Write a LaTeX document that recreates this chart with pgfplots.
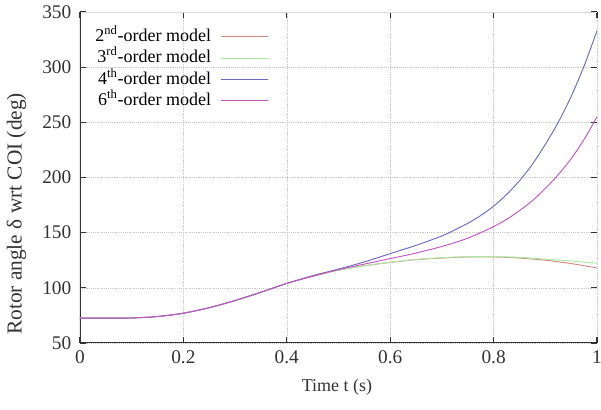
\documentclass[border=0pt]{standalone}
\usepackage{fontspec}
\setmainfont{Liberation Serif}
\usepackage{pgfplots}
\pgfplotsset{compat=1.18}
\definecolor{c2}{HTML}{D48A80}
\definecolor{c3}{HTML}{A8E8A0}
\definecolor{c4}{HTML}{6A6AC4}
\definecolor{c6}{HTML}{C455C4}
\begin{document}
\begin{tikzpicture}
\path[use as bounding box] (-60pt,-50.25pt) rectangle (390.75pt,257.25pt);
\begin{axis}[
  scale only axis,
  width=387.75pt, height=248.25pt,
  xmin=0, xmax=1, ymin=50, ymax=350,
  xtick={0,0.2,0.4,0.6,0.8,1},
  xticklabels={0,0.2,0.4,0.6,0.8,1},
  ytick={50,100,...,350},
  /pgf/number format/assume math mode=true,
  ticklabel style={font=\fontsize{14.5}{16}\selectfont, text=black!80},
  yticklabel style={xshift=-3pt},
  xticklabel style={yshift=-2pt},
  xlabel={Time t (s)},
  ylabel={Rotor angle δ wrt COI (deg)},
  xlabel style={font=\fontsize{13.5}{15}\selectfont, text=black!80,
    at={(axis description cs:0.497,0)}, anchor=center, yshift=-33.5pt},
  ylabel style={font=\fontsize{16}{18}\selectfont, text=black!80,
    at={(axis description cs:-0.123,0.39)}, anchor=center},
  grid=major,
  major grid style={densely dotted, gray!45},
  axis line style={draw=none},
  tick align=inside,
  major tick length=4.5pt,
  tick style={black!80, line width=0.8pt},
  legend cell align=right,
  legend plot pos=right,
  legend image code/.code={\path (0pt,0pt); \draw[#1] (6pt,0pt) -- (41pt,0pt);},
  legend style={draw=none, fill=none, at={(0.372,0.966)}, anchor=north east,
    font=\fontsize{13.5}{15}\selectfont, row sep=0pt,
    nodes={inner sep=1pt, text height=10.5pt, text depth=3.5pt}},
]
\draw[gray!30] (rel axis cs:0,1) -- (rel axis cs:1,1);
\draw[black!80, line width=1pt] (rel axis cs:0,1) -- (rel axis cs:0,0) -- (rel axis cs:1,0);

\addplot[c2, line width=0.7pt, smooth] coordinates {
(0,72.5) (0.05,72.5) (0.1,72.7) (0.15,74) (0.2,77) (0.25,82) (0.3,88.5) (0.35,96) (0.4,104)
(0.45,110.5) (0.5,116) (0.55,120) (0.6,123) (0.65,125.5) (0.7,127) (0.75,128) (0.8,128)
(0.85,127) (0.9,125) (0.95,122) (1.0,118)};
\addlegendentry{2\textsuperscript{nd}-order model}
\addplot[c3, line width=0.7pt, smooth] coordinates {
(0,72.5) (0.05,72.5) (0.1,72.7) (0.15,74) (0.2,77) (0.25,82) (0.3,88.5) (0.35,96) (0.4,104)
(0.45,110.5) (0.5,116) (0.55,120) (0.6,123.2) (0.65,125.7) (0.7,127.3) (0.75,128.2) (0.8,128.3)
(0.85,127.6) (0.9,126) (0.95,124.3) (1.0,122.3)};
\addlegendentry{3\textsuperscript{rd}-order model}
\addplot[c4, line width=0.7pt, smooth] coordinates {
(0,72.5) (0.05,72.5) (0.1,72.7) (0.15,74) (0.2,77) (0.25,82) (0.3,88.5) (0.35,96) (0.4,104)
(0.45,111) (0.5,117) (0.55,123.5) (0.6,131) (0.65,138.5) (0.7,147) (0.725,152.5) (0.75,158.5)
(0.775,165.5) (0.8,174) (0.825,184.5) (0.85,197) (0.875,212) (0.9,230) (0.925,250)
(0.95,273.5) (0.975,301) (1.0,333)};
\addlegendentry{4\textsuperscript{th}-order model}
\addplot[c6, line width=0.7pt, smooth] coordinates {
(0,72.5) (0.05,72.5) (0.1,72.7) (0.15,74) (0.2,77) (0.25,82) (0.3,88.5) (0.35,96) (0.4,104)
(0.45,110.5) (0.5,116.5) (0.55,121.5) (0.6,126.5) (0.65,131.5) (0.7,137.5) (0.725,141)
(0.75,145) (0.775,150) (0.8,155.5) (0.825,162) (0.85,170) (0.875,179) (0.9,190)
(0.925,202.5) (0.95,217) (0.975,234.5) (1.0,255)};
\addlegendentry{6\textsuperscript{th}-order model}
\end{axis}
\end{tikzpicture}
\end{document}
